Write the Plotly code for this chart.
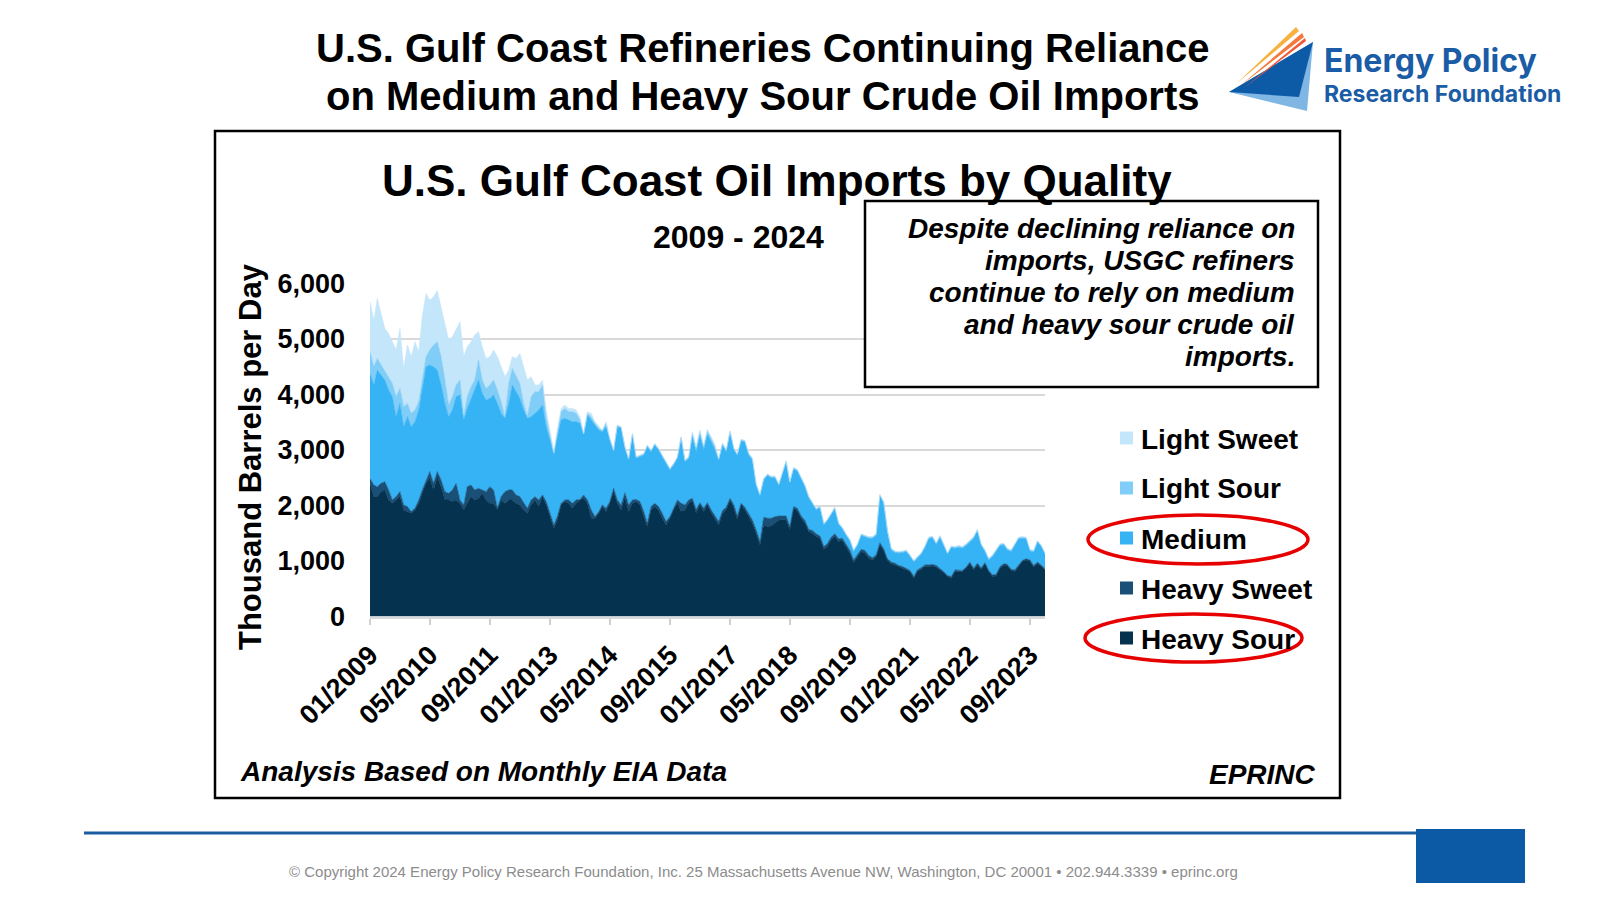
import pandas as pd
import plotly.graph_objects as go

# Monthly USGC crude imports by quality, thousand barrels per day (01/2009 - 01/2024)
start_month = "2009-01-01"

heavy_sour = [
    2400, 2160, 2160, 2250, 2280, 2100, 2040, 2100, 2160, 1920,
    1890, 1860, 1920, 2040, 2220, 2400, 2490, 2280, 2520, 2340,
    2100, 2100, 2070, 2100, 2040, 1920, 2040, 2160, 2100, 2130,
    2220, 2100, 2040, 2040, 1930, 2100, 2040, 2100, 2100, 2040,
    2010, 1920, 1860, 2010, 2100, 1980, 2160, 2010, 1800, 1590,
    1740, 2010, 2070, 2040, 1950, 2040, 2100, 2130, 2040, 1770,
    1770, 1860, 1980, 1890, 2040, 2250, 2040, 1920, 2160, 1890,
    2040, 2070, 2010, 1800, 1620, 1920, 1980, 1920, 1770, 1650,
    1770, 1920, 2040, 1890, 1920, 2040, 2090, 1870, 2010, 1890,
    2010, 1870, 1770, 1650, 1860, 1920, 2090, 1950, 1750, 2010,
    1920, 1800, 1680, 1500, 1290, 1650, 1620, 1630, 1680, 1740,
    1750, 1750, 1560, 1950, 1910, 1770, 1680, 1530, 1500, 1440,
    1410, 1210, 1260, 1380, 1440, 1350, 1370, 1260, 1140, 970,
    1080, 1170, 1140, 1050, 1020, 1080, 1290, 1190, 1010, 950,
    930, 900, 870, 840, 810, 690, 810, 850, 900, 900,
    910, 890, 840, 790, 720, 690, 810, 810, 810, 870,
    950, 840, 930, 850, 950, 810, 720, 730, 870, 930,
    920, 830, 810, 900, 990, 1020, 990, 890, 950, 910,
    840,
]

heavy_sweet = [
    90, 210, 180, 150, 150, 180, 60, 60, 90, 90,
    90, 30, 30, 60, 60, 60, 120, 120, 90, 120,
    150, 120, 210, 300, 60, 90, 300, 210, 180, 180,
    60, 150, 300, 240, 20, 60, 210, 180, 180, 150,
    150, 120, 90, 90, 60, 120, 30, 60, 60, 60,
    60, 30, 30, 60, 90, 60, 10, 60, 60, 150,
    30, 30, 30, 60, 30, 60, 60, 90, 70, 120,
    60, 40, 60, 90, 60, 60, 60, 60, 90, 60,
    30, 30, 60, 150, 90, 60, 40, 60, 40, 60,
    40, 50, 40, 60, 50, 50, 40, 60, 60, 30,
    50, 50, 60, 60, 60, 140, 150, 140, 120, 70,
    60, 60, 60, 30, 40, 40, 50, 40, 50, 50,
    40, 50, 50, 50, 50, 50, 40, 50, 50, 50,
    40, 40, 50, 50, 40, 30, 40, 30, 30, 30,
    30, 20, 30, 30, 20, 30, 30, 30, 30, 30,
    30, 30, 30, 20, 20, 30, 30, 30, 20, 20,
    30, 30, 30, 30, 20, 20, 30, 30, 30, 20,
    20, 20, 30, 30, 20, 20, 30, 30, 30, 20,
    20,
]

medium = [
    1890, 1800, 2100, 1950, 1830, 1800, 1860, 1440, 1590, 1410,
    1620, 1530, 1560, 1620, 1800, 2040, 1920, 2100, 1830, 1710,
    1590, 1380, 1440, 1560, 1890, 1530, 1410, 1560, 1800, 1950,
    1740, 1650, 1590, 1710, 1890, 1500, 1320, 1560, 1890, 1860,
    1770, 1680, 1620, 1500, 1500, 1620, 1620, 1350, 1320, 1260,
    1440, 1500, 1470, 1440, 1470, 1410, 1370, 1080, 1530, 1620,
    1650, 1470, 1320, 1470, 1110, 660, 1320, 1380, 800, 810,
    1170, 740, 810, 1020, 1380, 990, 1050, 1020, 1020, 1050,
    840, 780, 750, 1170, 780, 750, 1110, 1040, 1220, 1050,
    1230, 1230, 1190, 1100, 1180, 1000, 1180, 990, 1090, 1120,
    1170, 1060, 1080, 800, 820, 670, 770, 730, 700, 550,
    740, 970, 780, 680, 670, 670, 610, 570, 490, 430,
    510, 390, 410, 410, 450, 260, 170, 150, 170, 150,
    160, 250, 250, 310, 350, 350, 840, 820, 490, 220,
    190, 220, 250, 300, 250, 260, 210, 240, 310, 470,
    480, 380, 560, 470, 380, 520, 390, 410, 400, 390,
    370, 540, 580, 400, 200, 190, 330, 420, 380, 340,
    260, 320, 440, 470, 400, 360, 160, 240, 360, 330,
    260,
]

light_sour = [
    390, 330, 210, 180, 180, 240, 240, 360, 270, 360,
    240, 240, 210, 150, 180, 180, 270, 390, 510, 510,
    420, 210, 240, 210, 270, 60, 210, 210, 180, 360,
    240, 210, 240, 270, 240, 210, 30, 360, 300, 270,
    270, 120, 30, 360, 390, 330, 360, 150, 90, 30,
    60, 150, 180, 150, 180, 150, 60, 20, 30, 60,
    30, 30, 20, 60, 20, 20, 20, 20, 20, 20,
    20, 20, 20, 20, 20, 20, 20, 20, 20, 20,
    20, 20, 20, 20, 20, 20, 60, 60, 60, 60,
    60, 60, 60, 25, 25, 25, 25, 25, 25, 25,
    25, 25, 25, 25, 25, 20, 20, 20, 20, 20,
    20, 20, 20, 20, 20, 20, 20, 20, 20, 20,
    20, 20, 20, 20, 20, 20, 20, 20, 20, 20,
    20, 20, 20, 20, 20, 20, 20, 20, 20, 20,
    20, 20, 20, 20, 20, 20, 20, 20, 20, 20,
    20, 20, 20, 20, 20, 20, 20, 20, 20, 20,
    20, 20, 20, 20, 20, 20, 20, 20, 20, 20,
    20, 20, 20, 20, 20, 20, 20, 20, 20, 20,
    20,
]

light_sweet = [
    900, 840, 1080, 930, 750, 780, 750, 840, 1080, 690,
    1050, 1020, 1230, 900, 1140, 1140, 900, 870, 920, 900,
    1020, 1170, 1080, 990, 1050, 1080, 900, 810, 810, 510,
    600, 540, 510, 540, 600, 630, 720, 240, 210, 330,
    540, 660, 660, 360, 120, 120, 90, 150, 90, 30,
    60, 60, 60, 60, 60, 60, 60, 10, 30, 60,
    30, 30, 10, 30, 10, 10, 10, 10, 10, 10,
    10, 10, 10, 10, 10, 10, 10, 10, 10, 10,
    10, 10, 10, 10, 10, 10, 30, 30, 30, 30,
    30, 30, 30, 10, 10, 10, 10, 10, 10, 10,
    10, 10, 10, 10, 10, 10, 10, 10, 10, 10,
    10, 10, 10, 10, 10, 10, 10, 10, 10, 10,
    10, 10, 10, 10, 10, 10, 10, 10, 10, 10,
    10, 10, 10, 10, 10, 10, 10, 10, 10, 10,
    10, 10, 10, 10, 10, 10, 10, 10, 10, 10,
    10, 10, 10, 10, 10, 10, 10, 10, 10, 10,
    10, 10, 10, 10, 10, 10, 10, 10, 10, 10,
    10, 10, 10, 10, 10, 10, 10, 10, 10, 10,
    10,
]

series_names = ["Heavy Sour", "Heavy Sweet", "Medium", "Light Sour", "Light Sweet"]
series_values = [heavy_sour, heavy_sweet, medium, light_sour, light_sweet]
series_colors = ["#05324f", "#1a5078", "#36b3f5", "#80cdf7", "#c4e6fa"]

tick_labels = ["01/2009", "05/2010", "09/2011", "01/2013", "05/2014", "09/2015",
               "01/2017", "05/2018", "09/2019", "01/2021", "05/2022", "09/2023"]
y_ticks = [0, 1000, 2000, 3000, 4000, 5000, 6000]

for vals in series_values:
    assert len(vals) == 181, len(vals)

months = pd.date_range(start_month, periods=len(heavy_sour), freq="MS")
tick_dates = pd.to_datetime(tick_labels, format="%m/%Y")

# the page puts an 8px body margin around the figure, so size it to fit the window
OFF = 8
W, H = 1600 - OFF, 900 - OFF
FONT = "Liberation Sans"


def fx(x):
    return (x - OFF) / W


def fy(y):
    return 1 - (y - OFF) / H


def path(points):
    return "M " + " L ".join(f"{fx(x):.5f},{fy(y):.5f}" for x, y in points) + " Z"


def note(text, x, y, size, xanchor="center", color="black", family=FONT, **kw):
    return dict(text=text, x=fx(x), y=fy(y), xref="paper", yref="paper",
                xanchor=xanchor, yanchor="middle", showarrow=False,
                font=dict(family=family, size=size, color=color), **kw)


fig = go.Figure()

# stacked areas, heavy sour at the bottom
for name, vals, color in zip(series_names, series_values, series_colors):
    fig.add_trace(go.Scatter(
        x=months, y=vals, name=name, mode="lines", stackgroup="one",
        line=dict(width=0.6, color=color), fillcolor=color,
        hoverinfo="x+y+name"))

shapes = []
annotations = []

# outer chart frame
shapes.append(dict(type="rect", xref="paper", yref="paper",
                   x0=fx(215), x1=fx(1340), y0=fy(798), y1=fy(131),
                   line=dict(color="black", width=2.5), layer="below"))

# annotation box over the plot
shapes.append(dict(type="rect", xref="paper", yref="paper",
                   x0=fx(865), x1=fx(1318), y0=fy(387), y1=fy(201),
                   fillcolor="white", line=dict(color="black", width=2.5), layer="above"))

box_lines = ["Despite declining reliance on", "imports, USGC refiners",
             "continue to rely on medium", "and heavy sour crude oil", "imports."]
for i, t in enumerate(box_lines):
    annotations.append(note(f"<b><i>{t}</i></b>", 1297, 228 + i * 32.2, 28, xanchor="right"))

# legend drawn by hand (squares + labels), top entry = last trace
legend_y = [438, 488, 538, 588, 638]
for i, (name, color) in enumerate(zip(series_names[::-1], series_colors[::-1])):
    yy = legend_y[i]
    shapes.append(dict(type="rect", xref="paper", yref="paper",
                       x0=fx(1120), x1=fx(1133), y0=fy(yy + 6.5), y1=fy(yy - 6.5),
                       fillcolor=color, line=dict(width=0)))
    annotations.append(note(f"<b>{name}</b>", 1139, yy + 1, 28, xanchor="left"))

# red call-out ellipses
for y0, y1, x0, x1 in [(515, 564, 1088, 1308), (614, 662, 1085, 1302)]:
    shapes.append(dict(type="circle", xref="paper", yref="paper",
                       x0=fx(x0), x1=fx(x1), y0=fy(y1), y1=fy(y0),
                       line=dict(color="#e60000", width=3.5)))

# titles and notes
annotations += [
    note("<b>U.S. Gulf Coast Refineries Continuing Reliance</b>", 762, 48, 40),
    note("<b>on Medium and Heavy Sour Crude Oil Imports</b>", 762, 96, 40),
    note("<b>U.S. Gulf Coast Oil Imports by Quality</b>", 777, 180, 44),
    note("<b>2009 - 2024</b>", 738, 237, 32),
    note("<b>Thousand Barrels per Day</b>", 251, 457, 31, textangle=-90),
    note("<b><i>Analysis Based on Monthly EIA Data</i></b>", 238, 771, 28, xanchor="left"),
    note("<b><i>EPRINC</i></b>", 1318, 774, 28, xanchor="right"),
    note("© Copyright 2024 Energy Policy Research Foundation, Inc. 25 Massachusetts Avenue NW, "
         "Washington, DC 20001 • 202.944.3339 • eprinc.org", 763, 871, 15, color="#8c8c8c"),
]

# logo
shapes += [
    dict(type="path", xref="paper", yref="paper", line=dict(width=0), fillcolor="#7fb6e3",
         path=path([(1229, 92), (1313, 42), (1307, 111)])),
    dict(type="path", xref="paper", yref="paper", line=dict(width=0), fillcolor="#0d5aa6",
         path=path([(1229, 92), (1313, 42), (1299, 97)])),
    dict(type="path", xref="paper", yref="paper", line=dict(width=0), fillcolor="#f7b13e",
         path=path([(1236, 84), (1296, 27), (1299, 31)])),
    dict(type="path", xref="paper", yref="paper", line=dict(width=0), fillcolor="#f47a3c",
         path=path([(1240, 86), (1302, 33), (1304, 37)])),
    dict(type="path", xref="paper", yref="paper", line=dict(width=0), fillcolor="#ee5a3a",
         path=path([(1244, 88), (1305, 38), (1306, 41)])),
]
annotations += [
    note("<b>Energy Policy</b>", 1322, 60.5, 32, xanchor="left", color="#1b5ca6", family="Inter"),
    note("<b>Research Foundation</b>", 1322, 94.5, 23, xanchor="left", color="#1b5ca6", family="Inter"),
]

# footer rule and block
shapes += [
    dict(type="line", xref="paper", yref="paper", x0=fx(84), x1=fx(1418), y0=fy(833), y1=fy(833),
         line=dict(color="#1a5ca0", width=3)),
    dict(type="rect", xref="paper", yref="paper", x0=fx(1416), x1=fx(1525), y0=fy(883), y1=fy(829),
         fillcolor="#0c5aa6", line=dict(width=0)),
]

fig.update_layout(
    width=W, height=H,
    margin=dict(l=0, r=0, t=0, b=0, autoexpand=False),
    paper_bgcolor="white", plot_bgcolor="white",
    showlegend=False,
    shapes=shapes, annotations=annotations,
    font=dict(family=FONT, color="black"),
)

fig.update_xaxes(
    domain=[fx(370), fx(1045)], type="date", automargin=False,
    range=[months[0], months[-1]],
    tickvals=tick_dates, ticktext=tick_labels, tickangle=-45,
    ticks="outside", ticklen=6, tickcolor="#d0d0d0", tickwidth=2,
    showline=True, linecolor="#d9d9d9", linewidth=2, showgrid=False,
    ticklabelstandoff=4,
    tickfont=dict(family=FONT, size=27, color="black", weight="bold"),
)
fig.update_yaxes(
    domain=[fy(616.5), fy(283.5)], range=[0, 6000], automargin=False,
    tickvals=y_ticks, tickformat=",d",
    showgrid=True, gridcolor="#d9d9d9", gridwidth=2, zeroline=False,
    ticks="", ticklabelstandoff=24,
    tickfont=dict(family=FONT, size=27, color="black", weight="bold"),
)

fig.write_html("out.html")
